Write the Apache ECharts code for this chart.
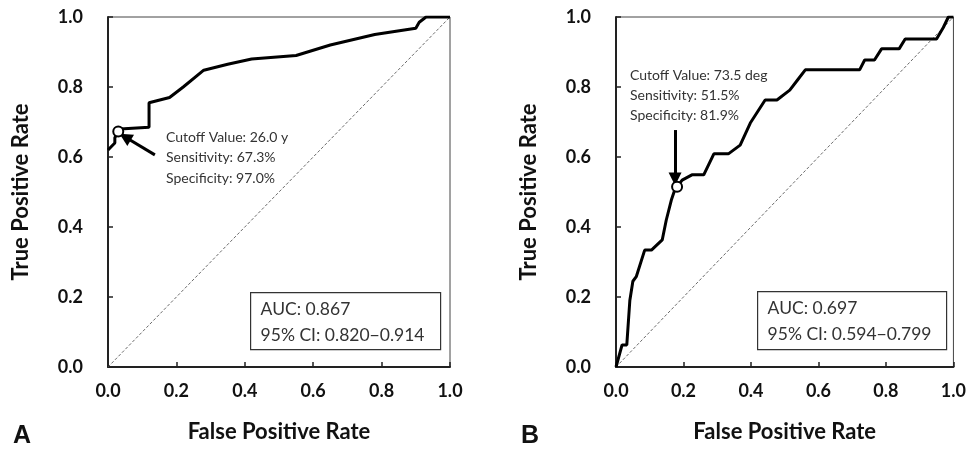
<!DOCTYPE html>
<html>
<head>
<meta charset="utf-8">
<script src="https://cdn.jsdelivr.net/npm/echarts@6/dist/echarts.min.js"></script>
<style>
  html, body { margin: 0; padding: 0; background: #fff; }
  #chart { width: 969px; height: 458px; }
</style>
</head>
<body>
<div id="chart"></div>
<script>
// ROC curve A (age)
const fprA = [0, 0.02, 0.02, 0.03, 0.035, 0.12, 0.12, 0.18, 0.22, 0.28, 0.35, 0.42, 0.55, 0.65, 0.78, 0.9, 0.91, 0.93, 1];
const tprA = [0.62, 0.64, 0.655, 0.673, 0.68, 0.685, 0.755, 0.77, 0.8, 0.848, 0.865, 0.88, 0.89, 0.92, 0.95, 0.968, 0.985, 1, 1];
// ROC curve B (angle)
const fprB = [0, 0.018, 0.032, 0.041, 0.05, 0.06, 0.085, 0.105, 0.137, 0.149, 0.164, 0.172, 0.181, 0.196, 0.225, 0.26, 0.29, 0.333, 0.368, 0.398, 0.442, 0.477, 0.515, 0.538, 0.561, 0.722, 0.737, 0.766, 0.787, 0.839, 0.857, 0.95, 0.97, 0.985, 1];
const tprB = [0, 0.063, 0.063, 0.19, 0.245, 0.258, 0.334, 0.334, 0.363, 0.42, 0.477, 0.5, 0.515, 0.534, 0.549, 0.549, 0.609, 0.609, 0.634, 0.697, 0.763, 0.763, 0.791, 0.82, 0.849, 0.849, 0.877, 0.877, 0.909, 0.909, 0.937, 0.937, 0.97, 1, 1];

const cutoffA = [0.03, 0.673];
const cutoffB = [0.181, 0.515];
const chance = [[0, 0], [1, 1]];

const noteA = ['Cutoff Value: 26.0 y', 'Sensitivity: 67.3%', 'Specificity: 97.0%'];
const noteB = ['Cutoff Value: 73.5 deg', 'Sensitivity: 51.5%', 'Specificity: 81.9%'];
const aucA = ['AUC: 0.867', '95% CI: 0.820\u22120.914'];
const aucB = ['AUC: 0.697', '95% CI: 0.594\u22120.799'];

// arrows pointing at the cutoff points (from, to)
const arrowA = [[0.137, 0.606], [0.05, 0.657]];
const arrowB = [[0.175, 0.677], [0.175, 0.537]];

const zip = (xs, ys) => xs.map((x, i) => [x, ys[i]]);

const chartDom = document.getElementById('chart');
const myChart = echarts.init(chartDom);

const titleStyle = { color: '#111', fontFamily: 'Lato', fontWeight: 'bold', fontSize: 22 };
const tickLabel = { color: '#111', fontFamily: 'Lato', fontWeight: 'bold', fontSize: 18, formatter: (v) => v.toFixed(1) };

const makeX = (gi) => ({
  gridIndex: gi,
  type: 'value',
  min: 0,
  max: 1,
  interval: 0.2,
  name: 'False Positive Rate',
  nameLocation: 'middle',
  nameGap: 54,
  nameTextStyle: titleStyle,
  axisLine: { show: true, onZero: false, lineStyle: { color: '#222', width: 2 } },
  axisTick: { show: true, inside: true, length: 5, lineStyle: { color: '#222', width: 1.5 } },
  axisLabel: Object.assign({ margin: 15 }, tickLabel),
  splitLine: { show: false },
});

const makeY = (gi) => ({
  gridIndex: gi,
  type: 'value',
  min: 0,
  max: 1,
  interval: 0.2,
  name: 'True Positive Rate',
  nameLocation: 'middle',
  nameGap: 76,
  nameTextStyle: titleStyle,
  axisLine: { show: true, onZero: false, lineStyle: { color: '#222', width: 2 } },
  axisTick: { show: true, inside: true, length: 5, lineStyle: { color: '#222', width: 1.5 } },
  axisLabel: Object.assign({ margin: 25 }, tickLabel),
  splitLine: { show: false },
});

const rocSeries = (gi, data, arrow) => ({
  type: 'line',
  xAxisIndex: gi,
  yAxisIndex: gi,
  data: data,
  showSymbol: false,
  animation: false,
  z: 3,
  lineStyle: { color: '#000', width: 3 },
  markLine: {
    silent: true,
    symbol: ['none', 'triangle'],
    symbolSize: 13,
    animation: false,
    label: { show: false },
    lineStyle: { color: '#000', width: 3, type: 'solid' },
    data: [[{ coord: arrow[0] }, { coord: arrow[1] }]],
  },
});

const chanceSeries = (gi) => ({
  type: 'line',
  xAxisIndex: gi,
  yAxisIndex: gi,
  data: chance,
  showSymbol: false,
  animation: false,
  z: 2,
  lineStyle: { color: '#444', width: 0.8, type: [3, 2] },
});

const cutoffSeries = (gi, pt) => ({
  type: 'scatter',
  xAxisIndex: gi,
  yAxisIndex: gi,
  data: [pt],
  symbol: 'circle',
  symbolSize: 10,
  animation: false,
  z: 5,
  itemStyle: { color: '#fff', borderColor: '#000', borderWidth: 2, opacity: 1 },
});

const noteText = (x, y, lines, lh) => ({
  type: 'text',
  left: x,
  top: y,
  z: 10,
  style: { text: lines.join('\n'), font: '14px Lato', fill: '#333', lineHeight: lh },
});

const aucBox = (x, y, w, h, lines) => ({
  type: 'group',
  left: x,
  top: y,
  z: 10,
  children: [
    { type: 'rect', shape: { x: 0, y: 0, width: w, height: h }, style: { fill: '#fff', stroke: '#333', lineWidth: 1.2 } },
    { type: 'text', x: 10, y: 4, style: { text: lines.join('\n'), font: '17.5px Lato', fill: '#333', lineHeight: 26 } },
  ],
});

const option = {
  backgroundColor: '#fff',
  grid: [
    { left: 108, top: 17, width: 342, height: 350, show: true, borderColor: '#444', borderWidth: 1 },
    { left: 616, top: 17, width: 342, height: 350, show: true, borderColor: '#444', borderWidth: 1 },
  ],
  xAxis: [makeX(0), makeX(1)],
  yAxis: [makeY(0), makeY(1)],
  series: [
    chanceSeries(0),
    rocSeries(0, zip(fprA, tprA), arrowA),
    cutoffSeries(0, cutoffA),
    chanceSeries(1),
    rocSeries(1, zip(fprB, tprB), arrowB),
    cutoffSeries(1, cutoffB),
  ],
  graphic: [
    noteText(166, 127, noteA, 20.5),
    noteText(630, 65, noteB, 20),
    aucBox(250, 292, 190, 57, aucA),
    aucBox(757, 291, 189, 58, aucB),
    { type: 'text', left: 13, top: 424, style: { text: 'A', font: 'bold 25px "Liberation Sans"', fill: '#111' } },
    { type: 'text', left: 521, top: 424, style: { text: 'B', font: 'bold 25px "Liberation Sans"', fill: '#111' } },
  ],
};

myChart.setOption(option);
window.addEventListener('resize', () => myChart.resize());
</script>
</body>
</html>
